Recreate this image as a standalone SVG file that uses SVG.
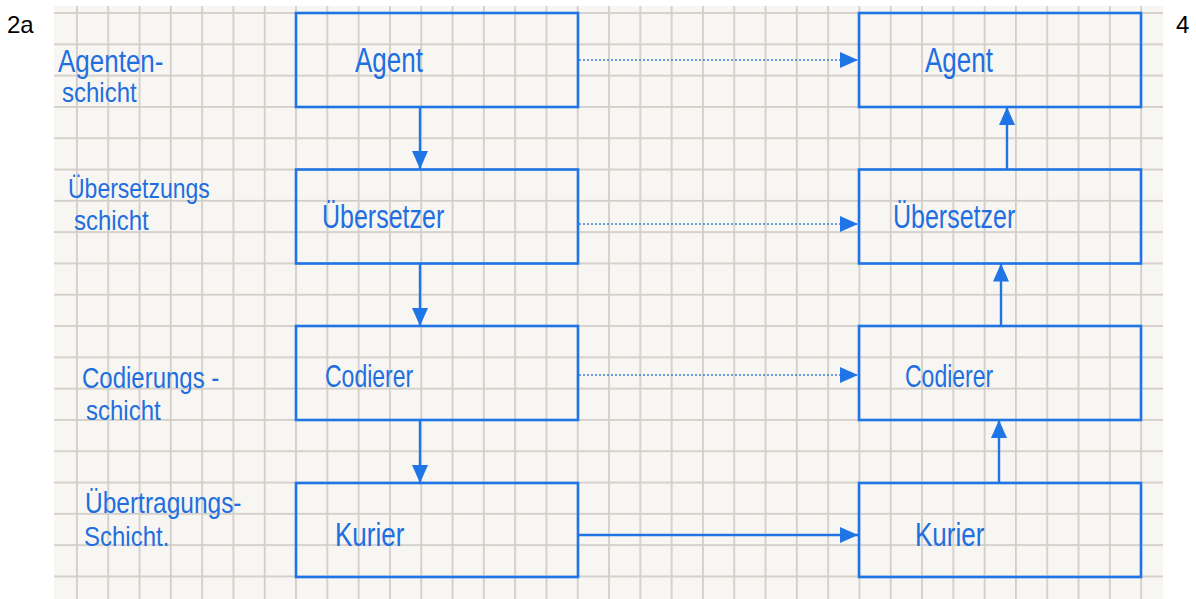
<svg xmlns="http://www.w3.org/2000/svg" width="1196" height="599" viewBox="0 0 1196 599">
<style>
.box{fill:none;stroke:#1f74e6;stroke-width:2.6}
.hw{font-family:"Liberation Sans",Arial,sans-serif;fill:#1f6fe0}
.lbl{font-family:"Liberation Sans",Arial,sans-serif;fill:#000;font-size:24px}
.solid{stroke:#1f74e6;stroke-width:2.4;fill:none}
.dot{stroke:#3d7fd8;stroke-width:1.6;stroke-dasharray:2 2;fill:none}
</style>
<defs>
<pattern id="grid" patternUnits="userSpaceOnUse" x="13.4" y="12.1" width="31.3" height="31.3">
<rect x="0" y="0" width="31.3" height="1.8" fill="#d2cec9"/>
<rect x="0" y="0" width="1.8" height="31.3" fill="#d2cec9"/>
</pattern>
<marker id="ah" markerUnits="userSpaceOnUse" markerWidth="20" markerHeight="16" refX="18" refY="8" orient="auto">
<path d="M0,0 L18,8 L0,16 Z" fill="#1f74e6"/>
</marker>
</defs>
<rect width="1196" height="599" fill="#ffffff"/>
<rect x="54" y="6" width="1109" height="593" fill="#f8f6f2"/>
<rect x="54" y="6" width="1109" height="593" fill="url(#grid)"/>
<text class="lbl" x="7" y="33">2a</text>
<text class="lbl" x="1176" y="33">4</text>
<g id="labels">
<text class="hw" font-size="26" transform="translate(58,72) scale(1,1.2)">Agenten-</text>
<text class="hw" font-size="24" transform="translate(62,102) scale(1,1.15)">schicht</text>
<text class="hw" font-size="23" transform="translate(68,198) scale(1,1.2)">Übersetzungs</text>
<text class="hw" font-size="24" transform="translate(74,230) scale(1,1.15)">schicht</text>
<text class="hw" font-size="24" transform="translate(82,388) scale(1,1.2)">Codierungs -</text>
<text class="hw" font-size="24" transform="translate(86,420) scale(1,1.15)">schicht</text>
<text class="hw" font-size="24.5" transform="translate(85,513) scale(1,1.2)">Übertragungs-</text>
<text class="hw" font-size="24" transform="translate(84,546) scale(1,1.15)">Schicht.</text>
</g>
<g id="agentL"><rect class="box" x="296" y="13" width="282" height="94"/><text class="hw" font-size="26" transform="translate(355,72) scale(1,1.35)">Agent</text></g>
<g id="uebersetzerL"><rect class="box" x="296" y="169.5" width="282" height="94"/><text class="hw" font-size="25" transform="translate(322,228) scale(1,1.35)">Übersetzer</text></g>
<g id="codiererL"><rect class="box" x="296" y="326" width="282" height="94"/><text class="hw" font-size="23" transform="translate(325,387) scale(1,1.35)">Codierer</text></g>
<g id="kurierL"><rect class="box" x="296" y="483" width="282" height="94"/><text class="hw" font-size="26" transform="translate(335,546) scale(1,1.3)">Kurier</text></g>
<g id="agentR"><rect class="box" x="859" y="13" width="282" height="94"/><text class="hw" font-size="26" transform="translate(925,72) scale(1,1.35)">Agent</text></g>
<g id="uebersetzerR"><rect class="box" x="859" y="169.5" width="282" height="94"/><text class="hw" font-size="25" transform="translate(893,228) scale(1,1.35)">Übersetzer</text></g>
<g id="codiererR"><rect class="box" x="859" y="326" width="282" height="94"/><text class="hw" font-size="23" transform="translate(905,387) scale(1,1.35)">Codierer</text></g>
<g id="kurierR"><rect class="box" x="859" y="483" width="282" height="94"/><text class="hw" font-size="26" transform="translate(915,546) scale(1,1.3)">Kurier</text></g>
<g id="connectors">
<line class="solid" x1="420" y1="107" x2="420" y2="169" marker-end="url(#ah)"/>
<line class="solid" x1="420" y1="263.5" x2="420" y2="326" marker-end="url(#ah)"/>
<line class="solid" x1="420" y1="420" x2="420" y2="483" marker-end="url(#ah)"/>
<line class="solid" x1="999" y1="483" x2="999" y2="420" marker-end="url(#ah)"/>
<line class="solid" x1="1001" y1="326" x2="1001" y2="263.5" marker-end="url(#ah)"/>
<line class="solid" x1="1007" y1="169.5" x2="1007" y2="107" marker-end="url(#ah)"/>
<line class="dot" x1="579" y1="60" x2="858" y2="60" marker-end="url(#ah)"/>
<line class="dot" x1="579" y1="224" x2="858" y2="224" marker-end="url(#ah)"/>
<line class="dot" x1="579" y1="375" x2="858" y2="375" marker-end="url(#ah)"/>
<line class="solid" x1="579" y1="535" x2="858" y2="535" marker-end="url(#ah)"/>
</g>
</svg>
